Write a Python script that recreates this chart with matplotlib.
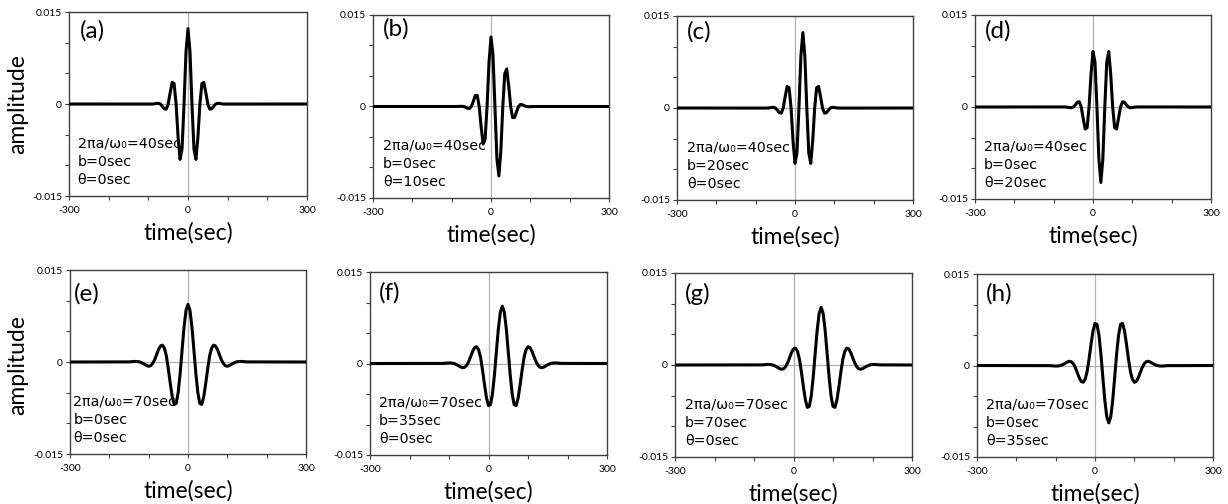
import numpy as np
import matplotlib
matplotlib.use("Agg")
import matplotlib.pyplot as plt

plt.rcParams['font.family'] = ['Lato', 'Noto Sans', 'DejaVu Sans']

# time axes (sec); the curve is flat zero outside the listed samples
t_a = np.r_[-300, np.arange(-100, 105, 5), 300]
t_b = np.r_[-300, np.arange(-90, 115, 5), 300]
t_c = np.r_[-300, np.arange(-80, 125, 5), 300]
t_d = np.r_[-300, np.arange(-80, 125, 5), 300]
t_e = np.r_[-300, np.arange(-150, 155, 5), 300]
t_f = np.r_[-300, np.arange(-115, 190, 5), 300]
t_g = np.r_[-300, np.arange(-80, 225, 5), 300]
t_h = np.r_[-300, np.arange(-115, 190, 5), 300]

# amplitudes, in units of 1e-3
amp_a = [0, -0.01, -0.01, 0, 0.03, 0.09, 0.12, 0, -0.34, -0.77, -0.85, 0, 1.83, 3.52, 3.32, 0,
         -5.38, -9.04, -7.32, 0, 8.53, 12.3, 8.53, 0, -7.32, -9.04, -5.38, 0, 3.32, 3.52, 1.83, 0,
         -0.85, -0.77, -0.34, 0, 0.12, 0.09, 0.03, 0, -0.01, -0.01, 0]
amp_b = [0, 0, 0.01, 0.02, 0.03, 0, -0.12, -0.28, -0.34, 0, 0.85, 1.80, 1.83, 0, -3.39, -6.16,
         -5.38, 0, 7.32, 11.39, 8.53, 0, -8.53, -11.39, -7.32, 0, 5.38, 6.16, 3.39, 0, -1.83, -1.80,
         -0.85, 0, 0.34, 0.28, 0.12, 0, -0.03, -0.02, -0.01, 0, 0]
amp_c = [0, -0.01, -0.01, 0, 0.03, 0.09, 0.12, 0, -0.34, -0.77, -0.85, 0, 1.83, 3.52, 3.32, 0,
         -5.38, -9.04, -7.32, 0, 8.53, 12.3, 8.53, 0, -7.32, -9.04, -5.38, 0, 3.32, 3.52, 1.83, 0,
         -0.85, -0.77, -0.34, 0, 0.12, 0.09, 0.03, 0, -0.01, -0.01, 0]
amp_d = [0, 0.01, 0.01, 0, -0.03, -0.09, -0.12, 0, 0.34, 0.77, 0.85, 0, -1.83, -3.59, -3.39, 0,
         5.38, 9.04, 7.32, 0, -8.53, -12.3, -8.53, 0, 7.32, 9.04, 5.38, 0, -3.39, -3.59, -1.83, 0,
         0.85, 0.77, 0.34, 0, -0.12, -0.09, -0.03, 0, 0.01, 0.01, 0]
amp_e = [0, 0.02, 0.04, 0.07, 0.09, 0.08, 0.04, -0.06, -0.21, -0.40, -0.59, -0.69, -0.61, -0.27,
         0.34, 1.17, 2.02, 2.62, 2.75, 2.25, 0.98, -1.12, -3.52, -5.67, -6.91, -6.75, -5.01, -1.89,
         1.98, 5.72, 8.42, 9.40, 8.42, 5.72, 1.98, -1.89, -5.01, -6.75, -6.91, -5.67, -3.52, -1.12,
         0.98, 2.25, 2.75, 2.62, 2.02, 1.17, 0.34, -0.27, -0.61, -0.69, -0.59, -0.40, -0.21, -0.06,
         0.04, 0.08, 0.09, 0.07, 0.04, 0.02, 0]
amp_f = [0, 0.02, 0.04, 0.07, 0.09, 0.08, 0.04, -0.06, -0.21, -0.40, -0.59, -0.69, -0.61, -0.27,
         0.34, 1.17, 2.02, 2.62, 2.75, 2.25, 0.98, -1.12, -3.52, -5.67, -6.91, -6.75, -5.01, -1.89,
         1.98, 5.72, 8.42, 9.40, 8.42, 5.72, 1.98, -1.89, -5.01, -6.75, -6.91, -5.67, -3.52, -1.12,
         0.98, 2.25, 2.75, 2.62, 2.02, 1.17, 0.34, -0.27, -0.61, -0.69, -0.59, -0.40, -0.21, -0.06,
         0.04, 0.08, 0.09, 0.07, 0.04, 0.02, 0]
amp_g = [0, 0.02, 0.04, 0.07, 0.09, 0.08, 0.04, -0.06, -0.21, -0.40, -0.59, -0.69, -0.61, -0.27,
         0.34, 1.17, 2.02, 2.62, 2.75, 2.25, 0.98, -1.12, -3.52, -5.67, -6.91, -6.75, -5.01, -1.89,
         1.98, 5.72, 8.42, 9.40, 8.42, 5.72, 1.98, -1.89, -5.01, -6.75, -6.91, -5.67, -3.52, -1.12,
         0.98, 2.25, 2.75, 2.62, 2.02, 1.17, 0.34, -0.27, -0.61, -0.69, -0.59, -0.40, -0.21, -0.06,
         0.04, 0.08, 0.09, 0.07, 0.04, 0.02, 0]
amp_h = [0, -0.02, -0.04, -0.07, -0.09, -0.08, -0.04, 0.06, 0.21, 0.40, 0.59, 0.69, 0.61, 0.27,
         -0.34, -1.17, -2.02, -2.62, -2.75, -2.25, -0.98, 1.12, 3.52, 5.67, 6.91, 6.75, 5.01, 1.89,
         -1.98, -5.72, -8.42, -9.40, -8.42, -5.72, -1.98, 1.89, 5.01, 6.75, 6.91, 5.67, 3.52, 1.12,
         -0.98, -2.25, -2.75, -2.62, -2.02, -1.17, -0.34, 0.27, 0.61, 0.69, 0.59, 0.40, 0.21, 0.06,
         -0.04, -0.08, -0.09, -0.07, -0.04, -0.02, 0]

times = [t_a, t_b, t_c, t_d, t_e, t_f, t_g, t_h]
amps = [amp_a, amp_b, amp_c, amp_d, amp_e, amp_f, amp_g, amp_h]
panel_labels = ['(a)', '(b)', '(c)', '(d)', '(e)', '(f)', '(g)', '(h)']
periods = [40, 40, 40, 40, 70, 70, 70, 70]
b_vals = [0, 0, 20, 0, 0, 35, 70, 0]
theta_vals = [0, 10, 0, 20, 0, 0, 0, 35]

x_ticks = [-300, -200, -100, 0, 100, 200, 300]
x_ticklabels = ['-300', '', '', '0', '', '', '300']
y_ticks = [-0.015, -0.01, -0.005, 0, 0.005, 0.01, 0.015]
y_ticklabels = ['-0.015', '', '', '0', '', '', '0.015']

# axes boxes in pixels: left, right, top, bottom
W, H = 1228, 504
boxes = [(69, 307, 12, 196), (373, 609, 15, 198), (677, 913, 16, 200), (975, 1211, 15, 199),
         (70, 306, 270, 454), (370, 607, 272, 455), (675, 912, 273, 457), (977, 1213, 274, 457)]
label_pos = [(0.046, 0.897), (0.042, 0.925), (0.042, 0.913), (0.042, 0.913),
             (0.017, 0.87), (0.038, 0.886), (0.042, 0.886), (0.038, 0.89)]
note_x = [0.036, 0.042, 0.042, 0.038, 0.014, 0.038, 0.042, 0.038]

fig = plt.figure(figsize=(W / 100, H / 100), dpi=100)

for i in range(8):
    l, r, t, b = boxes[i]
    ax = fig.add_axes([l / W, 1 - b / H, (r - l) / W, (b - t) / H])
    ax.axhline(0, color='#b0b0b0', lw=0.9, zorder=1)
    ax.axvline(0, color='#b0b0b0', lw=0.9, zorder=1)
    ax.plot(times[i], np.array(amps[i]) * 1e-3, color='black', lw=2.2, zorder=3)
    ax.set_xlim(-300, 300)
    ax.set_ylim(-0.015, 0.015)
    ax.set_xticks(x_ticks)
    ax.set_xticklabels(x_ticklabels)
    ax.set_yticks(y_ticks)
    ax.set_yticklabels(y_ticklabels)
    ax.tick_params(direction='out', length=3, width=0.8, labelsize=7.5, color='#404040')
    ax.tick_params(axis='x', pad=4)
    ax.tick_params(axis='y', pad=2)
    for s in ax.spines.values():
        s.set_color('#404040')
        s.set_linewidth(1.0)

    ax.text(label_pos[i][0], label_pos[i][1], panel_labels[i], transform=ax.transAxes,
            fontsize=17.5, va='center', ha='left')
    notes = [f'2πa/ω₀={periods[i]}sec', f'b={b_vals[i]}sec', f'θ={theta_vals[i]}sec']
    for j, txt in enumerate(notes):
        ax.text(note_x[i], [0.285, 0.187, 0.089][j], txt, transform=ax.transAxes,
                fontsize=10.3, family='DejaVu Sans', va='center', ha='left')
    ax.text(0.5, -0.2, 'time(sec)', transform=ax.transAxes, fontsize=16.5,
            ha='center', va='center')

fig.text(18 / W, 1 - 104 / H, 'amplitude', rotation=90, fontsize=16.5, ha='center', va='center')
fig.text(18 / W, 1 - 365 / H, 'amplitude', rotation=90, fontsize=16.5, ha='center', va='center')

fig.savefig('out.png', dpi=100)
